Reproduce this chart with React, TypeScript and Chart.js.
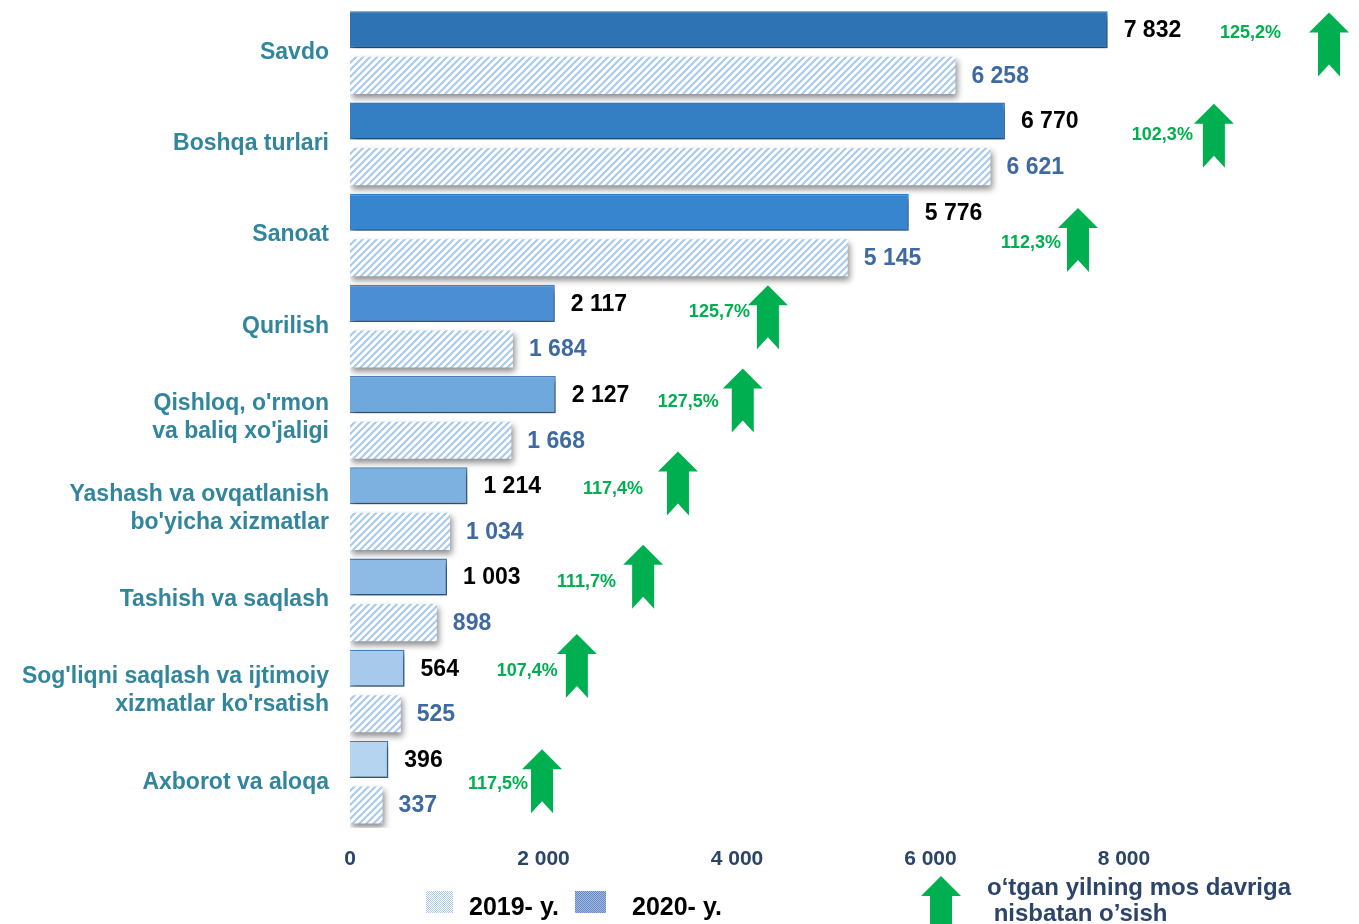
import React, { useEffect, useRef } from "react";
import { Chart, registerables } from "chart.js";

Chart.register(...registerables);

// ---------- data ----------
const categories: (string | string[])[] = [
  "Savdo",
  "Boshqa turlari",
  "Sanoat",
  "Qurilish",
  ["Qishloq, o'rmon", "va baliq xo'jaligi"],
  ["Yashash va ovqatlanish", "bo'yicha xizmatlar"],
  "Tashish va saqlash",
  ["Sog'liqni saqlash va ijtimoiy", "xizmatlar ko'rsatish"],
  "Axborot va aloqa",
];
const values2020 = [7832, 6770, 5776, 2117, 2127, 1214, 1003, 564, 396];
const values2019 = [6258, 6621, 5145, 1684, 1668, 1034, 898, 525, 337];
const growthLabels = ["125,2%", "102,3%", "112,3%", "125,7%", "127,5%", "117,4%", "111,7%", "107,4%", "117,5%"];
const xTickValues = [0, 2000, 4000, 6000, 8000];
const seriesNames = ["2020- y.", "2019- y."];
const legendOrder = ["2019- y.", "2020- y."];
const arrowNote = ["o‘tgan yilning mos davriga", " nisbatan o’sish"];

// ---------- annotation layout (arrow placement on the value axis) ----------
const arrowAt = [10120, 8930, 7525, 4320, 4060, 3390, 3030, 2345, 1985];
const arrowDy = [-8, -8, 5, -9, -17, -25, -23, -25, -1];
const pctDx = [-48, -21, -17, -18, -24, -35, -27, -19, -14];
const pctDy = [-12, -1, 3, -5, 2, 5, 5, 5, 3];

const barColors2020 = ["#2E74B5", "#347EC4", "#3784CF", "#4B8ED3", "#6FA8DC", "#7DB1E0", "#8DBBE5", "#A7CAEC", "#B5D4F0"];
const barBorders2020 = ["#2E74B5", "#347EC4", "#3784CF", "#4582C4", "#4A80C0", "#4A80C0", "#4A80C0", "#4A80C0", "#4A80C0"];

const FONT = "'Liberation Sans', Arial, sans-serif";
const fmt = (n: number) => String(n).replace(/\B(?=(\d{3})+(?!\d))/g, " ");

function makeHatch(ctx: CanvasRenderingContext2D) {
  const s = 7;
  const c = document.createElement("canvas");
  c.width = s;
  c.height = s;
  const g = c.getContext("2d")!;
  g.fillStyle = "#ffffff";
  g.fillRect(0, 0, s, s);
  g.strokeStyle = "#A8CAEC";
  g.lineWidth = 2.1;
  g.beginPath();
  g.moveTo(-1, s + 1);
  g.lineTo(s + 1, -1);
  g.moveTo(-s / 2 - 1, s / 2 + 1);
  g.lineTo(s / 2 + 1, -s / 2 - 1);
  g.moveTo(s / 2 - 1, s * 1.5 + 1);
  g.lineTo(s * 1.5 + 1, s / 2 - 1);
  g.stroke();
  return ctx.createPattern(c, "repeat")!;
}

function makeStipple(ctx: CanvasRenderingContext2D, a: string, b: string) {
  const c = document.createElement("canvas");
  c.width = 2;
  c.height = 2;
  const g = c.getContext("2d")!;
  g.fillStyle = a;
  g.fillRect(0, 0, 2, 2);
  g.fillStyle = b;
  g.fillRect(0, 0, 1, 1);
  g.fillRect(1, 1, 1, 1);
  return ctx.createPattern(c, "repeat")!;
}

function drawArrow(ctx: CanvasRenderingContext2D, cx: number, top: number, h = 64) {
  const headW = 40, shaftW = 22, headH = 20, notch = 12;
  ctx.beginPath();
  ctx.moveTo(cx, top);
  ctx.lineTo(cx + headW / 2, top + headH);
  ctx.lineTo(cx + shaftW / 2, top + headH);
  ctx.lineTo(cx + shaftW / 2, top + h);
  ctx.lineTo(cx, top + h - notch);
  ctx.lineTo(cx - shaftW / 2, top + h);
  ctx.lineTo(cx - shaftW / 2, top + headH);
  ctx.lineTo(cx - headW / 2, top + headH);
  ctx.closePath();
  ctx.fillStyle = "#00B050";
  ctx.fill();
}

const shadowPlugin = {
  id: "barShadow",
  beforeDatasetDraw(chart: any) {
    const ctx = chart.ctx;
    ctx.save();
    ctx.shadowColor = "rgba(0,0,0,0.45)";
    ctx.shadowBlur = 6;
    ctx.shadowOffsetX = 2;
    ctx.shadowOffsetY = 4;
  },
  afterDatasetDraw(chart: any) {
    chart.ctx.restore();
  },
};

const extrasPlugin = {
  id: "extras",
  afterDatasetsDraw(chart: any) {
    const ctx: CanvasRenderingContext2D = chart.ctx;
    ctx.save();
    ctx.textBaseline = "middle";
    ctx.textAlign = "left";
    ctx.font = `bold 23px ${FONT}`;
    chart.data.datasets.forEach((ds: any, di: number) => {
      const meta = chart.getDatasetMeta(di);
      ctx.fillStyle = di === 0 ? "#000000" : "#3E6AA1";
      meta.data.forEach((bar: any, i: number) => {
        ctx.fillText(fmt(ds.data[i]), bar.x + 16, bar.y + 1);
      });
    });
    ctx.restore();
  },
  afterDraw(chart: any) {
    const ctx: CanvasRenderingContext2D = chart.ctx;
    const xs = chart.scales.x;
    const ys = chart.scales.y;
    ctx.save();
    // growth arrows and percentages
    arrowAt.forEach((v, i) => {
      const cx = xs.getPixelForValue(v);
      const cy = ys.getPixelForValue(i) + arrowDy[i];
      drawArrow(ctx, cx, cy - 32);
      ctx.font = `bold 18px ${FONT}`;
      ctx.fillStyle = "#00B050";
      ctx.textAlign = "right";
      ctx.textBaseline = "middle";
      ctx.fillText(growthLabels[i], cx + pctDx[i], cy + pctDy[i]);
    });

    // legend
    const hatchLegend = makeStipple(ctx, "#ffffff", "#A9CBEE");
    const darkLegend = makeStipple(ctx, "#A3BBDF", "#6688C6");
    ctx.fillStyle = hatchLegend;
    ctx.fillRect(426, 891, 27, 22);
    ctx.fillStyle = darkLegend;
    ctx.fillRect(575, 891, 31, 22);
    ctx.font = `bold 25px ${FONT}`;
    ctx.fillStyle = "#000000";
    ctx.textAlign = "left";
    ctx.textBaseline = "middle";
    ctx.fillText(legendOrder[0], 469, 908);
    ctx.fillText(legendOrder[1], 632, 908);

    // arrow note
    drawArrow(ctx, 941, 876, 70);
    ctx.font = `bold 24px ${FONT}`;
    ctx.fillStyle = "#2B4468";
    ctx.fillText(arrowNote[0], 987, 888);
    ctx.fillText(arrowNote[1], 987, 914);
    ctx.restore();
  },
};

export default function App() {
  const ref = useRef<HTMLCanvasElement>(null);

  useEffect(() => {
    const canvas = ref.current!;
    const ctx = canvas.getContext("2d")!;
    const hatch = makeHatch(ctx);
    const chart = new Chart(canvas, {
      type: "bar",
      data: {
        labels: categories as any,
        datasets: [
          {
            label: seriesNames[0],
            data: values2020,
            backgroundColor: barColors2020,
            borderColor: barBorders2020,
            borderWidth: 1.5,
            barPercentage: 0.813,
            categoryPercentage: 1,
          },
          {
            label: seriesNames[1],
            data: values2019,
            backgroundColor: hatch as any,
            borderWidth: 0,
            barPercentage: 0.813,
            categoryPercentage: 1,
          },
        ],
      },
      options: {
        indexAxis: "y",
        responsive: false,
        animation: false,
        devicePixelRatio: 1,
        layout: { padding: { top: 7, bottom: 33, left: 0, right: 0 } },
        plugins: {
          legend: { display: false },
          tooltip: { enabled: false },
        },
        scales: {
          x: {
            min: 0,
            max: 10430,
            afterBuildTicks: (s: any) => {
              s.ticks = xTickValues.map((v) => ({ value: v }));
            },
            grid: { display: false, drawTicks: false },
            border: { display: false },
            ticks: {
              autoSkip: false,
              maxRotation: 0,
              padding: 19,
              color: "#2A4568",
              font: { family: FONT, weight: "bold", size: 21 },
              callback: (v: any) => fmt(Number(v)),
            },
          },
          y: {
            afterFit: (s: any) => {
              s.width = 350;
              s.paddingTop = 0;
              s.paddingBottom = 0;
            },
            grid: { display: false, drawTicks: false },
            border: { display: false },
            ticks: {
              autoSkip: false,
              padding: 21,
              color: "#31859C",
              font: { family: FONT, weight: "bold", size: 23, lineHeight: 1.22 },
            },
          },
        },
      },
      plugins: [shadowPlugin, extrasPlugin],
    });
    return () => chart.destroy();
  }, []);

  return (
    <div style={{ position: "absolute", left: 0, top: 0, width: 1359, height: 924, background: "#ffffff" }}>
      <canvas ref={ref} width={1359} height={924} style={{ display: "block", width: 1359, height: 924 }} />
    </div>
  );
}
